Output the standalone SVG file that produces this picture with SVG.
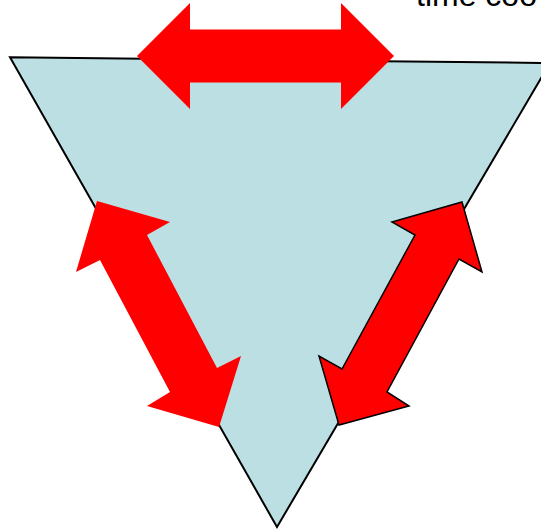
<svg xmlns="http://www.w3.org/2000/svg" width="541" height="530" viewBox="0 0 541 530">
  <style>
    .tri { fill: #BBDFE3; stroke: #000000; stroke-width: 2; stroke-linejoin: miter; }
    .arrow { fill: #FF0000; }
    .outlined { stroke: #000000; stroke-width: 1.5; stroke-linejoin: miter; }
    .label { font-family: "Liberation Sans", Arial, sans-serif; font-size: 32px; fill: #000000; }
  </style>
  <rect width="541" height="530" fill="#FFFFFF"/>
  <g id="triangle">
    <polygon class="tri" points="10,57.3 550,63 277,527"/>
  </g>
  <g id="label">
    <text class="label" x="416" y="6">time coo</text>
  </g>
  <g id="connectors">
    <polygon id="arrow-top" class="arrow" points="137,56 190,3 190,29.5 341,29.5 341,3 394,56 341,109 341,82.5 190,82.5 190,109"/>
    <polygon id="arrow-left" class="arrow" points="97,201 170,222 147,235 217,368 241,356 219,427 147,406 170,392 100,260 76,272"/>
    <polygon id="arrow-right" class="arrow outlined" points="462,202 482,272 459,259 387,392 409,406 339,425 319,356 342,369 415,235 392,222"/>
  </g>
</svg>
